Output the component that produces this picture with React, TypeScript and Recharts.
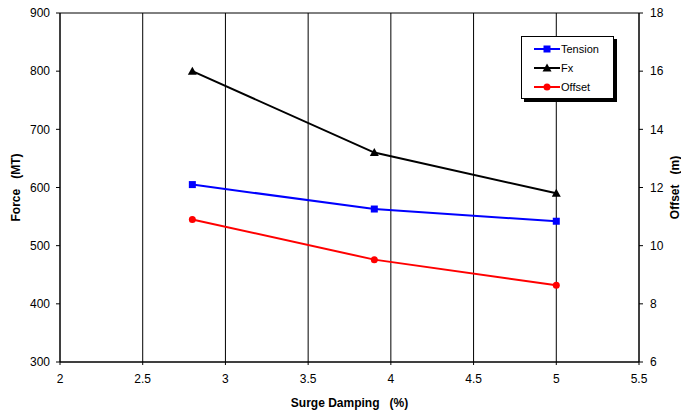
import React from 'react';
import {
  LineChart, Line, XAxis, YAxis, CartesianGrid,
} from 'recharts';

const damping = [2.8, 3.9, 5];
const tension = [605, 563, 542];
const fx = [800, 660, 590];
const offset = [10.9, 9.52, 8.64];

const xTicks = [2, 2.5, 3, 3.5, 4, 4.5, 5, 5.5];
const forceTicks = [300, 400, 500, 600, 700, 800, 900];
const offsetTicks = [6, 8, 10, 12, 14, 16, 18];

const data = damping.map((d, i) => ({
  damping: d,
  tension: tension[i],
  fx: fx[i],
  offset: offset[i],
}));

const FONT = '"Liberation Sans", Arial, sans-serif';
const NB = '\u00a0\u00a0\u00a0';

const Square = (props: any) => {
  const { cx, cy, key } = props;
  return <rect key={key} x={cx - 3.5} y={cy - 3.5} width={7} height={7} fill="#0000ff" />;
};

const Triangle = (props: any) => {
  const { cx, cy, key } = props;
  return <polygon key={key} points={`${cx},${cy - 4.5} ${cx + 4.5},${cy + 3.5} ${cx - 4.5},${cy + 3.5}`} fill="#000" />;
};

const Dot = (props: any) => {
  const { cx, cy, key } = props;
  return <circle key={key} cx={cx} cy={cy} r={3.5} fill="#ff0000" />;
};

const legendItems = [
  { name: 'Tension', color: '#0000ff', marker: 'square' },
  { name: 'Fx', color: '#000000', marker: 'triangle' },
  { name: 'Offset', color: '#ff0000', marker: 'circle' },
];

const LegendBox = () => (
  <div
    style={{
      position: 'absolute',
      left: 521,
      top: 36,
      width: 93,
      height: 63,
      border: '1px solid #000',
      background: '#fff',
      boxShadow: '3px 3px 0 #000',
      fontFamily: FONT,
      fontSize: 11,
      paddingTop: 2,
      boxSizing: 'border-box',
    }}
  >
    {legendItems.map(item => (
      <div key={item.name} style={{ display: 'flex', alignItems: 'center', height: 19, paddingLeft: 12 }}>
        <svg width={26} height={10}>
          <line x1={0} y1={5} x2={26} y2={5} stroke={item.color} strokeWidth={2} />
          {item.marker === 'square' && <rect x={9.5} y={1.5} width={7} height={7} fill={item.color} />}
          {item.marker === 'triangle' && <polygon points="13,0.5 17.5,8.5 8.5,8.5" fill={item.color} />}
          {item.marker === 'circle' && <circle cx={13} cy={5} r={3.5} fill={item.color} />}
        </svg>
        <span style={{ marginLeft: 1, color: '#000' }}>{item.name}</span>
      </div>
    ))}
  </div>
);

const tickStyle = { fill: '#000', fontSize: 12, fontFamily: FONT };
const labelBase = { fill: '#000', fontSize: 12, fontWeight: 'bold', fontFamily: FONT, style: { textAnchor: 'middle' as const } };

export default function App() {
  return (
    <div style={{ position: 'absolute', left: 0, top: 0, width: 681, height: 411, background: '#fff' }}>
      <LineChart width={681} height={411} data={data} margin={{ top: 13, right: 0, bottom: 0, left: 0 }}>
        <CartesianGrid stroke="#000" strokeWidth={1} />
        <XAxis
          dataKey="damping"
          type="number"
          domain={[2, 5.5]}
          ticks={xTicks}
          height={49}
          tickSize={3}
          tickMargin={9}
          stroke="#000"
          tick={tickStyle}
          label={{ value: `Surge Damping${NB}(%)`, position: 'insideBottom', offset: 4, ...labelBase }}
        />
        <YAxis
          yAxisId="force"
          domain={[300, 900]}
          ticks={forceTicks}
          width={60}
          tickSize={4}
          tickMargin={6}
          stroke="#000"
          tick={tickStyle}
          label={{ value: `Force${NB}(MT)`, angle: -90, position: 'insideLeft', offset: 16, ...labelBase }}
        />
        <YAxis
          yAxisId="offset"
          orientation="right"
          domain={[6, 18]}
          ticks={offsetTicks}
          width={42}
          tickSize={4}
          tickMargin={7}
          stroke="#000"
          tick={tickStyle}
          label={{ value: `Offset${NB}(m)`, angle: -90, position: 'insideRight', offset: 6, ...labelBase }}
        />
        <Line yAxisId="force" dataKey="tension" name="Tension" stroke="#0000ff" strokeWidth={2} dot={Square} isAnimationActive={false} />
        <Line yAxisId="force" dataKey="fx" name="Fx" stroke="#000" strokeWidth={2} dot={Triangle} isAnimationActive={false} />
        <Line yAxisId="offset" dataKey="offset" name="Offset" stroke="#ff0000" strokeWidth={2} dot={Dot} isAnimationActive={false} />
      </LineChart>
      <LegendBox />
    </div>
  );
}
